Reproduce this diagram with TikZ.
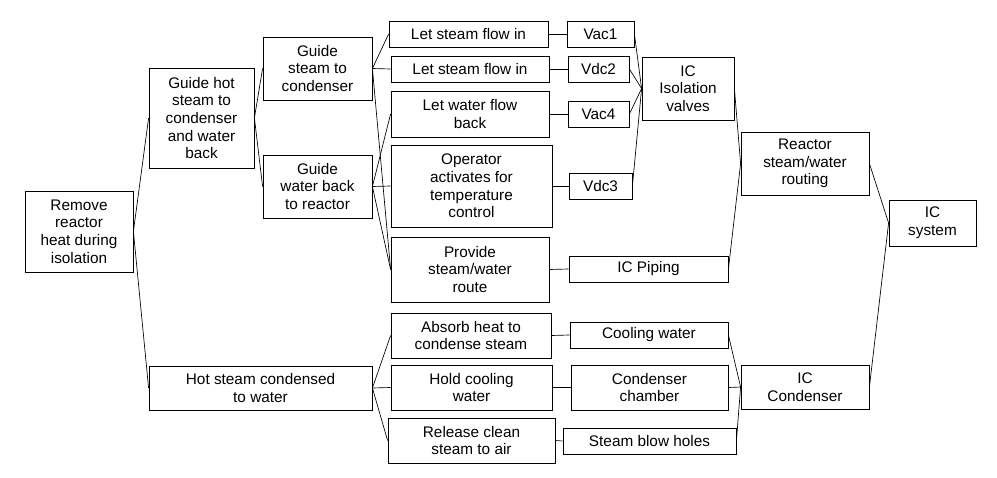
\documentclass[tikz,border=0pt]{standalone}
\usepackage{fontspec}
\setmainfont{Liberation Sans}
\begin{document}
\begin{tikzpicture}[x=0.75pt,y=-0.75pt,
  box/.style={draw,line width=0.6pt,inner sep=0pt,align=center,font=\fontsize{11.5}{13.2}\selectfont},
  ln/.style={line width=0.5pt}]
\useasboundingbox (0,0) rectangle (997,478);
\newcommand{\bx}[6]{\node[box,minimum width={(#4-#2)*0.75pt},minimum height={(#5-#3)*0.75pt}] (#1) at ({(#2+#4)/2},{(#3+#5)/2}) {#6};}
\bx{rem}{25}{191}{133}{272}{Remove\\reactor\\heat during\\isolation}
\bx{ghs}{149}{68}{254}{168}{Guide hot\\steam to\\condenser\\and water\\back}
\bx{gsc}{263}{37}{372}{100}{Guide\\steam to\\condenser}
\bx{gwb}{263}{155}{372}{218}{Guide\\water back\\to reactor}
\bx{hsc}{149}{366}{372}{410}{Hot steam condensed\\to water}
\bx{ls1}{389}{21}{548}{47}{Let steam flow in}
\bx{ls2}{391}{56}{549}{82}{Let steam flow in}
\bx{lwf}{391}{91}{549}{137}{Let water flow\\back}
\bx{opa}{391}{145}{552}{227}{Operator\\activates for\\temperature\\control}
\bx{prv}{391}{237}{549}{302}{Provide\\steam/water\\route}
\bx{abs}{391}{313}{551}{358}{Absorb heat to\\condense steam}
\bx{hld}{391}{365}{552}{410}{Hold cooling\\water}
\bx{rel}{388}{418}{555}{463}{Release clean\\steam to air}
\bx{vac1}{567}{21}{634}{47}{Vac1}
\bx{vdc2}{568}{56}{629}{82}{Vdc2}
\bx{vac4}{568}{101}{629}{127}{Vac4}
\bx{vdc3}{569}{173}{632}{199}{Vdc3}
\bx{iso}{642}{57}{734}{120}{IC\\Isolation\\valves}
\bx{pip}{569}{256}{728}{282}{IC Piping}
\bx{rsw}{741}{132}{869}{195}{Reactor\\steam/water\\routing}
\bx{sys}{889}{200}{976}{246}{IC\\system}
\bx{cw}{570}{322}{728}{348}{Cooling water}
\bx{cc}{571}{365}{728}{410}{Condenser\\chamber}
\bx{sbh}{563}{428}{736}{454}{Steam blow holes}
\bx{icc}{741}{365}{869}{409}{IC\\Condenser}
\foreach \a/\b in {rem/ghs,rem/hsc,ghs/gsc,ghs/gwb,gsc/ls1,gsc/ls2,gsc/prv,gwb/lwf,gwb/opa,gwb/prv,
  hsc/abs,hsc/hld,hsc/rel,ls1/vac1,ls2/vdc2,lwf/vac4,opa/vdc3,prv/pip,abs/cw,hld/cc,rel/sbh,
  vac1/iso,vdc2/iso,vac4/iso,vdc3/iso,iso/rsw,pip/rsw,rsw/sys,icc/sys,cw/icc,cc/icc,sbh/icc}
  \draw[ln] (\a.east) -- (\b.west);
\end{tikzpicture}
\end{document}
